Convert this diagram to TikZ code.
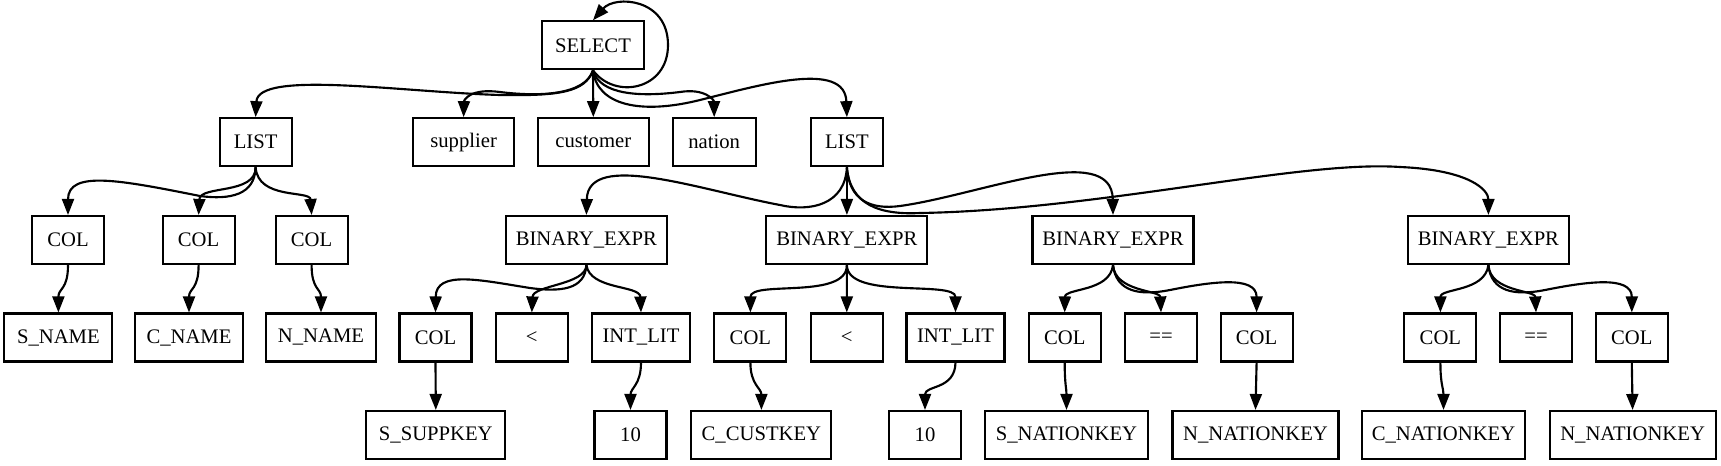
\documentclass[tikz,border=0pt]{standalone}
\usepackage{fontspec}
\setmainfont{Liberation Serif}
\usetikzlibrary{arrows.meta}
\tikzset{
  box/.style={draw, line width=1.6pt, inner sep=0pt, minimum height=36pt, font=\fontsize{15.5pt}{18pt}\selectfont},
  edge/.style={line width=1.6pt, -{Triangle[length=12pt,width=9pt]}}
}
\begin{document}
\begin{tikzpicture}[x=0.75pt,y=-0.75pt]
\useasboundingbox (0,0) rectangle (1721,465);
% row 1
\node[box, minimum width=76.5pt] (sel) at (593,45.3) {SELECT};
% row 2
\node[box, minimum width=54pt] (l1) at (255.6,142.2) {LIST};
\node[box, minimum width=75.75pt] (sup) at (463.6,142.2) {supplier};
\node[box, minimum width=83.25pt] (cus) at (593.3,142.2) {customer};
\node[box, minimum width=62.25pt] (nat) at (714.2,142.2) {nation};
\node[box, minimum width=54pt] (l2) at (846.9,142.2) {LIST};
% row 3
\node[box, minimum width=54pt] (ca) at (68,240) {COL};
\node[box, minimum width=54pt] (cb) at (198.6,240) {COL};
\node[box, minimum width=54pt] (cc) at (311.6,240) {COL};
\node[box, minimum width=120.75pt] (be1) at (586.4,240) {BINARY\_EXPR};
\node[box, minimum width=120.75pt] (be2) at (846.9,240) {BINARY\_EXPR};
\node[box, minimum width=120.75pt] (be3) at (1113,240) {BINARY\_EXPR};
\node[box, minimum width=120.75pt] (be4) at (1488.4,240) {BINARY\_EXPR};
% row 4
\node[box, minimum width=81pt] (sn) at (58.4,337.5) {S\_NAME};
\node[box, minimum width=81pt] (cn) at (189,337.5) {C\_NAME};
\node[box, minimum width=82.5pt] (nn) at (321,337.5) {N\_NAME};
\node[box, minimum width=54pt] (c1) at (435.5,337.5) {COL};
\node[box, minimum width=54pt] (lt1) at (531.8,337.5) {<};
\node[box, minimum width=73.5pt] (il1) at (641,337.5) {INT\_LIT};
\node[box, minimum width=54pt] (c2) at (750.4,337.5) {COL};
\node[box, minimum width=54pt] (lt2) at (846.8,337.5) {<};
\node[box, minimum width=73.5pt] (il2) at (955.5,337.5) {INT\_LIT};
\node[box, minimum width=54pt] (c3) at (1064.7,337.5) {COL};
\node[box, minimum width=54pt] (eq1) at (1161,337.5) {==};
\node[box, minimum width=54pt] (c4) at (1256.6,337.5) {COL};
\node[box, minimum width=54pt] (c5) at (1440.4,337.5) {COL};
\node[box, minimum width=54pt] (eq2) at (1536,337.5) {==};
\node[box, minimum width=54pt] (c6) at (1631.8,337.5) {COL};
% row 5
\node[box, minimum width=104.25pt] (ssk) at (435.8,435) {S\_SUPPKEY};
\node[box, minimum width=54pt] (t1) at (630.5,435) {10};
\node[box, minimum width=105pt] (cck) at (761.4,435) {C\_CUSTKEY};
\node[box, minimum width=54pt] (t2) at (925,435) {10};
\node[box, minimum width=122.25pt] (snk) at (1066.5,435) {S\_NATIONKEY};
\node[box, minimum width=124.5pt] (nnk1) at (1255.5,435) {N\_NATIONKEY};
\node[box, minimum width=122.25pt] (cnk) at (1443.5,435) {C\_NATIONKEY};
\node[box, minimum width=124.5pt] (nnk2) at (1632.6,435) {N\_NATIONKEY};

% SELECT edges
\draw[edge] (sel.south) .. controls (615,100) and (668,90) .. (668,45) .. controls (668,-2) and (615,-5) .. (sel.north);
\draw[edge] (sel.south) .. controls (585,92) and (560,96) .. (500,95) .. controls (400,92) and (258,70) .. (l1.north);
\draw[edge] (sel.south) .. controls (585,95) and (540,97) .. (500,92) .. controls (470,88) and (464,100) .. (sup.north);
\draw[edge] (sel.south) -- (cus.north);
\draw[edge] (sel.south) .. controls (600,95) and (640,97) .. (680,92) .. controls (705,88) and (714,100) .. (nat.north);
\draw[edge] (sel.south) .. controls (597,105) and (640,115) .. (700,100) .. controls (760,85) and (845,60) .. (l2.north);
% LIST1 edges
\draw[edge] (l1.south) .. controls (255,195) and (230,200) .. (200,196) .. controls (120,180) and (68,170) .. (ca.north);
\draw[edge] (l1.south) .. controls (256,195) and (200,185) .. (cb.north);
\draw[edge] (l1.south) .. controls (258,200) and (310,190) .. (cc.north);
\draw[edge] (ca.south) .. controls (68,290) and (58.4,288) .. (sn.north);
\draw[edge] (cb.south) .. controls (198.6,290) and (189,288) .. (cn.north);
\draw[edge] (cc.south) .. controls (311.6,290) and (321,288) .. (nn.north);
% LIST2 edges
\draw[edge] (l2.south) .. controls (845,205) and (810,212) .. (780,205) .. controls (700,190) and (588,150) .. (be1.north);
\draw[edge] (l2.south) -- (be2.north);
\draw[edge] (l2.south) .. controls (849,200) and (870,210) .. (900,206) .. controls (980,195) and (1112,140) .. (be3.north);
\draw[edge] (l2.south) .. controls (850,205) and (880,215) .. (920,213) .. controls (1100,210) and (1300,160) .. (1400,167) .. controls (1470,170) and (1488.4,190) .. (be4.north);
% BE1
\draw[edge] (be1.south) .. controls (585,290) and (560,292) .. (530,288) .. controls (480,280) and (436,270) .. (c1.north);
\draw[edge] (be1.south) .. controls (586,285) and (533,285) .. (lt1.north);
\draw[edge] (be1.south) .. controls (590,290) and (640,285) .. (il1.north);
\draw[edge] (c1.south) -- (ssk.north);
\draw[edge] (il1.south) .. controls (641,385) and (630.5,388) .. (t1.north);
% BE2
\draw[edge] (be2.south) .. controls (847,300) and (750.4,280) .. (c2.north);
\draw[edge] (be2.south) -- (lt2.north);
\draw[edge] (be2.south) .. controls (847,300) and (955.5,280) .. (il2.north);
\draw[edge] (c2.south) .. controls (750.4,385) and (761.4,388) .. (cck.north);
\draw[edge] (il2.south) .. controls (955,390) and (925,385) .. (t2.north);
% BE3
\draw[edge] (be3.south) .. controls (1110,292) and (1065,288) .. (c3.north);
\draw[edge] (be3.south) .. controls (1115,292) and (1160,290) .. (eq1.north);
\draw[edge] (be3.south) .. controls (1116,292) and (1140,296) .. (1170,290) .. controls (1210,282) and (1256.6,275) .. (c4.north);
\draw[edge] (c3.south) .. controls (1064.7,385) and (1066.5,388) .. (snk.north);
\draw[edge] (c4.south) -- (nnk1.north);
% BE4
\draw[edge] (be4.south) .. controls (1485,292) and (1440.4,288) .. (c5.north);
\draw[edge] (be4.south) .. controls (1490,292) and (1535,290) .. (eq2.north);
\draw[edge] (be4.south) .. controls (1491,292) and (1515,296) .. (1545,290) .. controls (1585,282) and (1631.8,275) .. (c6.north);
\draw[edge] (c5.south) .. controls (1440.4,385) and (1443.5,388) .. (cnk.north);
\draw[edge] (c6.south) -- (nnk2.north);
\end{tikzpicture}
\end{document}
